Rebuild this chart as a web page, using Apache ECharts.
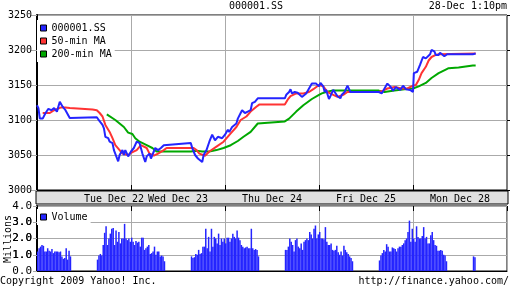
<!DOCTYPE html>
<html><head><meta charset="utf-8">
<script src="https://cdn.jsdelivr.net/npm/echarts@6/dist/echarts.min.js"></script>
<style>html,body{margin:0;padding:0;background:#fff}#c{width:512px;height:288px}</style>
</head><body><div id="c"></div>
<script>
// time axis: trading minutes from Tue Dec 22 09:30, 330 minutes per day (09:30-15:00)
const dayLabels = ['Tue Dec 22','Wed Dec 23','Thu Dec 24','Fri Dec 25','Mon Dec 28'];
const priceT = [0,5,10,20,30,40,50,60,70,80,85,90,100,115,120,210,215,220,230,235,240,250,255,265,270,275,285,290,300,305,310,320,330,
340,350,355,360,370,380,385,395,400,410,415,425,435,445,450,540,545,555,565,580,585,595,605,615,625,635,650,660,
670,675,685,700,705,715,720,730,740,750,755,765,775,780,870,875,885,890,895,905,915,930,945,955,965,970,980,990,
995,1005,1010,1015,1025,1030,1040,1045,1055,1065,1070,1080,1090,1100,1110,1200,1210,1220,1230,1240,1250,1260,1275,1285,1295,1310,1320,
1323,1330,1335,1340,1345,1350,1355,1365,1370,1380,1385,1395,1400,1405,1410,1415,1420,1430,1435,1440,1530,1540];
const priceV = [3121,3117,3102,3102,3110,3116,3114,3117,3112,3126,3125,3119,3114,3103,3104,3104,3101,3100,3093,3088,3076,3074,3069,3067,3057,3055,3041,3050,3057,3050,3057,3048,3055,
3060,3069,3071,3067,3052,3040,3048,3052,3045,3055,3060,3057,3060,3064,3066,3067,3060,3050,3045,3040,3050,3057,3069,3079,3071,3076,3074,3079,
3086,3083,3090,3095,3102,3110,3114,3110,3112,3114,3124,3126,3131,3131,3131,3136,3140,3144,3138,3140,3139,3133,3138,3145,3152,3150,3152,3148,
3153,3148,3140,3143,3130,3134,3143,3142,3134,3131,3136,3140,3149,3140,3140,3140,3138,3145,3152,3148,3142,3147,3143,3149,3144,3143,3140,
3167,3168,3169,3171,3179,3181,3190,3188,3190,3194,3200,3198,3193,3195,3193,3196,3194,3191,3193,3194,3194,3195];
const ma50T = [20,45,60,85,100,115,195,210,220,230,240,255,265,275,290,300,320,330,350,365,385,395,410,425,445,455,550,560,570,590,605,630,655,660,680,700,715,735,750,770,780,870,880,890,910,935,955,970,990,1005,1020,1040,1055,1075,1090,1200,1215,1230,1255,1280,1300,1320,1330,1340,1350,1365,1375,1385,1400,1410,1540];
const ma50V = [3110,3110,3114,3118,3118,3117,3115,3114,3110,3105,3093,3083,3074,3064,3057,3052,3050,3053,3057,3064,3060,3052,3049,3052,3057,3060,3060,3057,3052,3049,3055,3062,3069,3071,3081,3090,3100,3105,3112,3119,3122,3122,3129,3134,3138,3138,3140,3144,3150,3148,3140,3136,3133,3136,3140,3140,3142,3145,3147,3145,3145,3149,3150,3157,3167,3176,3185,3190,3193,3194,3195];
const ma200T = [245,275,305,320,335,345,360,385,405,420,540,560,580,605,630,655,660,680,705,725,750,775,870,885,910,935,965,990,1000,1015,1035,1200,1220,1255,1290,1320,1340,1365,1385,1410,1435,1445,1480,1530,1540];
const ma200V = [3108,3100,3090,3082,3080,3074,3069,3064,3060,3055,3055,3056,3055,3055,3057,3060,3062,3064,3070,3076,3083,3095,3098,3102,3112,3121,3130,3136,3138,3140,3142,3142,3140,3142,3144,3145,3148,3153,3160,3167,3172,3174,3175,3178,3178];
// volume in millions, 5-minute bars per session
const volD1AM = [1.2,1.4,1.5,1.6,1.55,1.2,1.2,1.4,1.25,1.2,1.35,1.1,1.2,1.2,1.2,1.15,1.2,0.9,0.75,0.8,1.4,0.7,1.25,0.9];
const volD1PM = [0.7,0.95,1.05,0.95,1.6,2.35,2.75,1.6,2.0,2.3,2.6,2.65,1.6,2.5,1.8,2.4,1.7,2.0,2.0,2.9,2.0,1.9,2.0,1.8];
const volD2AM = [2.05,1.8,1.6,1.85,1.75,1.8,1.5,2.05,2.05,1.3,1.4,1.5,1.6,1.05,1.1,1.2,1.5,1.0,1.2,1.2,0.9,0.95,0.9,0.6];
const volD2PM = [0.9,0.8,0.85,1.05,1.0,1.3,1.05,1.1,1.5,1.5,2.6,1.4,2.1,1.2,2.6,1.5,2.1,2.0,1.7,2.3,1.6,2.0,1.8,2.0];
const volD3AM = [1.7,2.05,2.05,1.8,2.0,2.3,2.1,2.0,2.5,2.05,1.9,1.6,1.5,1.4,1.45,1.5,1.4,1.4,2.6,1.4,1.3,1.35,1.3,0.9];
const volD3PM = [1.3,1.3,1.5,2.0,1.8,1.6,1.2,1.9,2.0,1.5,1.4,1.7,1.3,1.8,1.9,2.0,1.9,2.4,2.25,2.0,2.6,2.8,2.0,2.25];
const volD4AM = [2.4,2.0,2.0,1.95,2.7,1.8,1.6,1.6,1.7,1.3,1.25,1.3,1.55,1.15,1.0,1.2,0.95,1.55,1.3,1.15,1.05,0.9,0.8,0.6];
const volD4PM = [0.65,0.95,1.1,1.3,1.2,1.65,1.5,1.2,1.2,1.45,1.4,1.35,1.2,1.4,1.5,1.5,1.6,1.7,1.9,2.0,2.4,3.1,1.8,2.6];
const volD5AM = [2.0,1.8,2.75,2.1,2.0,2.0,2.15,2.7,2.0,2.1,1.7,1.7,2.2,2.4,1.9,1.6,1.55,1.25,1.25,1.3,1.25,1.0,0.95,0.6];
const volD5PM = [0.9,0.85];
const volTicks = [0, 1, 2, 3, 4];
const volInnerTicks = [1, 2, 3];

const DAY = 330, AM = 0, PM = 210;
const sessions = [[0,AM,volD1AM],[0,PM,volD1PM],[1,AM,volD2AM],[1,PM,volD2PM],[2,AM,volD3AM],[2,PM,volD3PM],[3,AM,volD4AM],[3,PM,volD4PM],[4,AM,volD5AM],[4,PM,volD5PM]];
const volData = [];
sessions.forEach(([d,s,arr]) => arr.forEach((v,k) => volData.push([d*DAY + s + k*5 + 2.5, v])));
const zip = (a,b) => a.map((t,i) => [t, b[i]]);

const F = 'DejaVu Sans Mono';
const BLUE = '#2424ff', RED = '#ff3333', GREEN = '#00a800', GRID = '#aaaaaa';
const txt = {fontFamily:F, fontSize:10, color:'#000', fontWeight:'normal'};

const chart = echarts.init(document.getElementById('c'), null, {renderer:'canvas'});
chart.setOption({
  animation:false,
  backgroundColor:'#fff',
  title:[
    {text:'000001.SS', left:'center', top:1, padding:0, textStyle:txt},
    {text:'28-Dec 1:10pm', right:5, top:1, padding:0, textStyle:txt},
    {text:'Copyright 2009 Yahoo! Inc.', left:0, top:276, padding:0, textStyle:txt},
    {text:'http://finance.yahoo.com/', right:3, top:276, padding:0, textStyle:txt}
  ],
  graphic:[
    {type:'text', id:'millions', x:8, y:239, rotation:Math.PI/2,
     style:{text:'Millions', font:'10px "DejaVu Sans Mono"', fill:'#000', align:'center', verticalAlign:'middle'}}
  ],
  legend:[
    {data:['000001.SS','50-min MA','200-min MA'], orient:'vertical', left:37, top:20, itemWidth:6, itemHeight:6, itemGap:1, icon:'rect',
     backgroundColor:'#fff', padding:[2,3,2,3], selectedMode:false, textStyle:Object.assign({lineHeight:12}, txt),
     itemStyle:{borderColor:'#000', borderWidth:1}},
    {data:['Volume'], orient:'vertical', left:37, top:209, itemWidth:6, itemHeight:6, itemGap:1, icon:'rect',
     backgroundColor:'#fff', padding:[2,3,2,3], selectedMode:false, textStyle:Object.assign({lineHeight:12}, txt),
     itemStyle:{borderColor:'#000', borderWidth:1}}
  ],
  grid:[
    {left:37, right:5, top:15, height:175, show:true, borderColor:'#000', borderWidth:1, outerBoundsMode:'none'},
    {left:36, right:4, top:191, height:13, show:true, borderColor:'#000', borderWidth:1, backgroundColor:'#e0e0e0', outerBoundsMode:'none'},
    {left:37, right:5, top:206, height:65, show:true, borderColor:'#000', borderWidth:1, outerBoundsMode:'none'}
  ],
  xAxis:[
    {gridIndex:0, type:'value', min:0, max:5*DAY, position:'bottom',
     axisLine:{show:true, lineStyle:{color:'#000'}},
     axisTick:{show:true, inside:true, length:5, lineStyle:{color:'#000'}, customValues:[DAY,2*DAY,3*DAY,4*DAY]},
     splitLine:{show:true, lineStyle:{color:GRID}},
     axisLabel:{show:true, customValues:dayLabels.map((_,i) => i*DAY + DAY/2), margin:4,
       fontFamily:F, fontSize:10, color:'#000',
       formatter:(v) => { const i = Math.floor(v/DAY); return i === 0 ? '{s|' + dayLabels[i] + '}' : dayLabels[i]; },
       rich:{s:{padding:[0,0,0,60], fontFamily:F, fontSize:10, color:'#000'}}}},
    {gridIndex:2, type:'value', min:0, max:5*DAY, interval:DAY, position:'bottom',
     axisLine:{show:true, lineStyle:{color:'#000', width:1}}, axisTick:{show:false}, axisLabel:{show:false},
     splitLine:{show:true, lineStyle:{color:GRID}}},
    {gridIndex:2, type:'value', min:0, max:5*DAY, interval:DAY, position:'top',
     axisLine:{show:false}, axisTick:{show:true, inside:true, length:5, lineStyle:{color:'#000'}}, axisLabel:{show:false},
     splitLine:{show:false}}
  ],
  yAxis:[
    {gridIndex:0, type:'value', min:3000, max:3250, interval:50, position:'left',
     axisLine:{show:true, lineStyle:{color:'#000', width:2}},
     axisTick:{show:true, length:7, lineStyle:{color:GRID}},
     axisLabel:{fontFamily:F, fontSize:10, color:'#000', margin:5, formatter:(v) => String(v)},
     splitLine:{show:true, lineStyle:{color:GRID}}},
    {gridIndex:0, type:'value', min:3000, max:3250, interval:50, position:'right',
     axisLine:{show:false}, axisTick:{show:true, length:3, lineStyle:{color:'#000'}}, axisLabel:{show:false}, splitLine:{show:false}},
    {gridIndex:2, type:'value', min:0, max:4, interval:1, position:'left',
     axisLine:{show:true, lineStyle:{color:'#000', width:2}},
     axisTick:{show:true, length:4, lineStyle:{color:GRID}},
     axisLabel:{fontFamily:F, fontSize:11, color:'#000', margin:5, customValues:volTicks, formatter:(v) => v.toFixed(1)},
     splitLine:{show:true, lineStyle:{color:GRID}}}
  ],
  series:[
    {type:'line', name:'200-min MA', xAxisIndex:0, yAxisIndex:0, data:zip(ma200T, ma200V), symbol:'none',
     lineStyle:{color:GREEN, width:2}, itemStyle:{color:GREEN}},
    {type:'line', name:'50-min MA', xAxisIndex:0, yAxisIndex:0, data:zip(ma50T, ma50V), symbol:'none',
     lineStyle:{color:RED, width:2}, itemStyle:{color:RED}},
    {type:'line', name:'000001.SS', xAxisIndex:0, yAxisIndex:0, data:zip(priceT, priceV), symbol:'none',
     lineStyle:{color:BLUE, width:2}, itemStyle:{color:BLUE}},
    {type:'bar', name:'Volume', xAxisIndex:1, yAxisIndex:2, data:volData, barWidth:1.5, itemStyle:{color:BLUE}}
  ]
});

// inner volume tick labels, placed through the volume axis scale
const axisX = chart.convertToPixel({xAxisIndex:1}, 0);
chart.setOption({
  graphic: volInnerTicks.map((v) => ({
    type:'text', id:'vl' + v, x: axisX - 5, y: chart.convertToPixel({yAxisIndex:2}, v),
    style:{text:v.toFixed(1), font:'11px "DejaVu Sans Mono"', fill:'#000', align:'right', verticalAlign:'middle'}
  }))
});
</script></body></html>
